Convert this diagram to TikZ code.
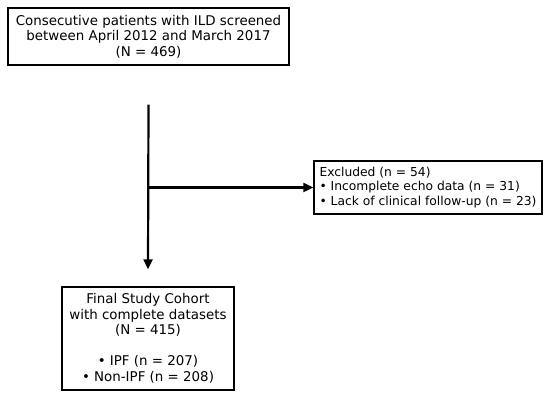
\documentclass[tikz,border=0pt]{standalone}
\usepackage{fontspec}
\setmainfont{DejaVu Sans}
\usepackage{tikz}
\usetikzlibrary{arrows.meta}
\usepackage{xcolor}

\begin{document}
\begin{tikzpicture}[x=1pt,y=1pt,>={Triangle[length=10pt,width=9pt]},font=\fontsize{13.4}{15.5}\selectfont,
  box/.style={draw,line width=1.4pt,inner sep=0pt},
  flow/.style={->,line width=2.2pt}]
\useasboundingbox (0,0) rectangle (550,399);
\node[box,align=center,minimum width=281,minimum height=57] (top) at (148.5,362.5)
  {Consecutive patients with ILD screened\\between April 2012 and March 2017\\(N = 469)};
\node[box,align=left,minimum width=228,minimum height=53,font=\fontsize{12.3}{14.5}\selectfont] (excl) at (428,211.5)
  {Excluded (n = 54)\\• Incomplete echo data (n = 31)\\• Lack of clinical follow-up (n = 23)};
\node[box,align=center,minimum width=172,minimum height=103] (final) at (148,60.5)
  {Final Study Cohort\\with complete datasets\\(N = 415)\\[15.5pt]• IPF (n = 207)\\• Non-IPF (n = 208)};
\coordinate (start) at ([yshift=-39]top.south);
\coordinate (stop) at ([yshift=17]final.north);
\coordinate (branch) at (start |- excl.west);
\draw[flow] (start) -- (stop);
\draw[flow] (branch) -- (excl.west);
\end{tikzpicture}
\end{document}
